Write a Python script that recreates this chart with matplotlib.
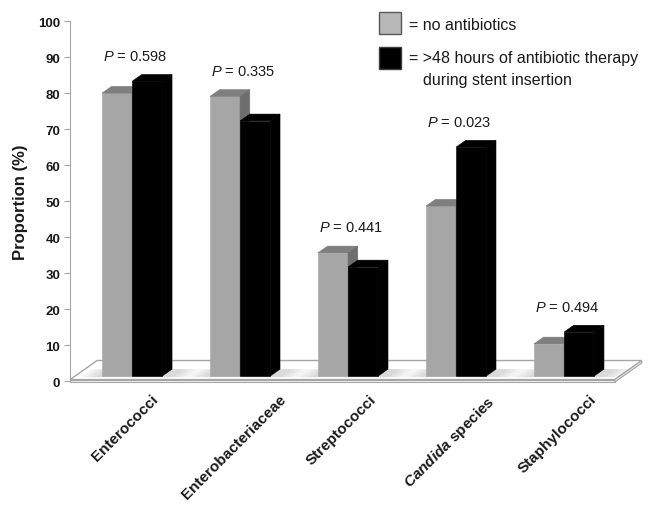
import matplotlib.pyplot as plt
from matplotlib.patches import Polygon, Rectangle
import numpy as np

plt.rcParams['font.family'] = ['Liberation Sans', 'DejaVu Sans']
plt.rcParams['mathtext.fontset'] = 'custom'
plt.rcParams['mathtext.rm'] = 'Liberation Sans'
plt.rcParams['mathtext.it'] = 'Liberation Sans:italic'
plt.rcParams['mathtext.bf'] = 'Liberation Sans:bold'
plt.rcParams['mathtext.bfit'] = 'Liberation Sans:italic:bold'

# Данные
categories = ['Enterococci', 'Enterobacteriaceae', 'Streptococci',
              r'$\mathbfit{Candida}$ species', 'Staphylococci']
no_abx = [78.6, 77.7, 34.2, 47.2, 8.9]
abx_48h = [81.9, 70.9, 30.3, 63.6, 12.2]
p_values = ['0.598', '0.335', '0.441', '0.023', '0.494']
yticks = np.arange(0, 101, 10)

# Псевдо-3D: размеры в единицах данных (x - категории, y - проценты)
bar_w = 0.28
bar_dx, bar_dy = 0.09, 1.9
base = 1.4
floor_dx, floor_dy = 0.25, 5.3
x_left, x_right = -0.574, 4.787
floor_right = 4.47

fig = plt.figure(figsize=(6.49, 5.06), dpi=100)
ax = fig.add_axes([0.108, 0.245, 0.892, 0.711])
ax.set_xlim(x_left, x_right)
ax.set_ylim(0, 100)


def column(x0, h, face, top, side):
    y1 = base + h
    ax.add_patch(Rectangle((x0, base), bar_w, h, facecolor=face, edgecolor=face, lw=0.4, zorder=5))
    ax.add_patch(Polygon([(x0, y1), (x0 + bar_w, y1), (x0 + bar_w + bar_dx, y1 + bar_dy),
                          (x0 + bar_dx, y1 + bar_dy)], closed=True,
                         facecolor=top, edgecolor=top, lw=0.4, zorder=5))
    ax.add_patch(Polygon([(x0 + bar_w, base), (x0 + bar_w, y1), (x0 + bar_w + bar_dx, y1 + bar_dy),
                          (x0 + bar_w + bar_dx, base + bar_dy)], closed=True,
                         facecolor=side, edgecolor=side, lw=0.4, zorder=5))


# Пол
ax.add_patch(Polygon([(x_left, 0.4), (floor_right, 0.4), (floor_right + floor_dx, 0.4 + floor_dy),
                      (x_left + floor_dx, 0.4 + floor_dy)], closed=True,
                     facecolor='white', edgecolor='#a6a6a6', lw=1, zorder=1, clip_on=False))
ax.add_patch(Polygon([(x_left, 0.4), (floor_right, 0.4), (floor_right, -0.3), (x_left, -0.3)],
                     closed=True, facecolor='#f2f2f2', edgecolor='#a6a6a6', lw=0.8, zorder=1,
                     clip_on=False))
ax.add_patch(Polygon([(floor_right, 0.4), (floor_right + floor_dx, 0.4 + floor_dy),
                      (floor_right + floor_dx, floor_dy - 0.3), (floor_right, -0.3)],
                     closed=True, facecolor='#e6e6e6', edgecolor='#a6a6a6', lw=0.8, zorder=1,
                     clip_on=False))

# Тени под столбцами
for i in range(len(categories)):
    for k in range(6):
        g = 0.03 * k
        ax.add_patch(Polygon([(i - bar_w - 0.06 - g, base - 0.3), (i + bar_w + 0.1 + g, base - 0.3),
                              (i + bar_w + 0.2 + g, base + bar_dy), (i - bar_w + 0.05 - g, base + bar_dy)],
                             closed=True, facecolor='#7f7f7f', alpha=0.05, edgecolor='none', zorder=2))

# Столбцы
for i in range(len(categories)):
    column(i - bar_w, no_abx[i], '#a6a6a6', '#7f7f7f', '#6e6e6e')
    column(i, abx_48h[i], '#000000', '#000000', '#000000')
    top = max(no_abx[i], abx_48h[i]) + base + bar_dy
    ax.text(i + 0.03, top + 5.2, '$P$ = ' + p_values[i], ha='center', va='center',
            fontsize=10.5, color='#1a1a1a')
    ax.text(i - 0.06, -3.0, categories[i], rotation=45, ha='center', va='top',
            fontsize=11, fontweight='bold', color='#1a1a1a')

# Оси
for s in ['top', 'right', 'bottom']:
    ax.spines[s].set_visible(False)
ax.spines['left'].set_color('#a6a6a6')
ax.set_xticks([])
ax.set_yticks(yticks)
ax.tick_params(axis='y', direction='out', length=4, color='#a6a6a6', labelsize=9.5,
               labelcolor='#1a1a1a', pad=3)
for lbl in ax.get_yticklabels():
    lbl.set_fontweight('bold')
ax.set_ylabel('Proportion (%)', fontsize=12, fontweight='bold', color='#1a1a1a')
ax.yaxis.set_label_coords(-0.072, 0.5)

# Легенда
fig.add_artist(Rectangle((379 / 649, 1 - 35 / 506), 22 / 649, 22 / 506, transform=fig.transFigure,
                         facecolor='#b8b8b8', edgecolor='#595959', lw=1))
fig.add_artist(Rectangle((379 / 649, 1 - 70 / 506), 22 / 649, 22 / 506, transform=fig.transFigure,
                         facecolor='#000000', edgecolor='#404040', lw=1))
fig.text(409 / 649, 1 - 25 / 506, '= no antibiotics', va='center', fontsize=11.5, color='#1a1a1a')
fig.text(409 / 649, 1 - 59 / 506, '= >48 hours of antibiotic therapy', va='center', fontsize=11.5,
         color='#1a1a1a')
fig.text(423 / 649, 1 - 80 / 506, 'during stent insertion', va='center', fontsize=11.5, color='#1a1a1a')

fig.savefig('out.png', dpi=100)
